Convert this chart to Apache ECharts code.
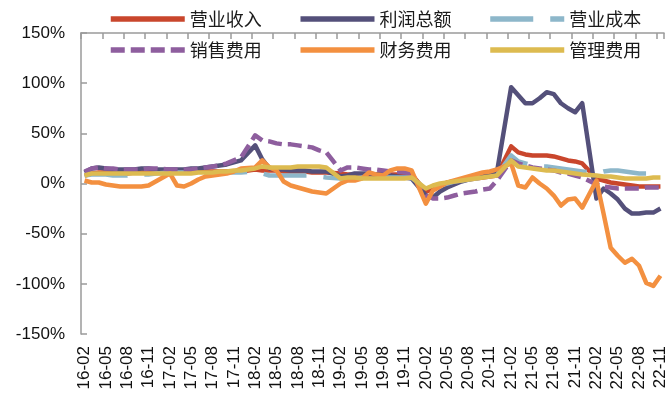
<!DOCTYPE html>
<html>
<head>
<meta charset="utf-8">
<script src="https://cdn.jsdelivr.net/npm/echarts@6/dist/echarts.min.js"></script>
<style>
  html, body {margin: 0; padding: 0; background: #fff;}
  #chart {width: 670px; height: 405px;}
</style>
</head>
<body>
<div id="chart"></div>
<script>
// 月份：16-02 ~ 22-11，1月无数据（1-2月合并）
const months = [];
for (let y = 16; y <= 22; y++) {
  for (let m = 1; m <= 12; m++) {
    if ((y === 16 && m < 2) || (y === 22 && m > 11)) continue;
    months.push(y + '-' + String(m).padStart(2, '0'));
  }
}

const N = null;
// 营业收入
const revenue = [
  8, 10, 11, 11, 10, 10, 10, 11, 11, 11, 11, N,
  13, 13, 12, 12, 12, 12, 12, 12, 12, 12, 12, N,
  14, 13, 13, 13, 12, 12, 12, 12, 11, 11, 11, N,
  10, 9, 9, 9, 9, 9, 9, 9, 9, 9, 9, N,
  -8, -6, -2, 1, 2, 3, 4, 5, 6, 7, 8, N,
  37, 31, 29, 28, 28, 28, 27, 25, 23, 22, 20, N,
  5, 3, 1, 0, -1, -2, -3, -3, -3, -3
];
// 利润总额
const profit = [
  11, 15, 16, 15, 14, 14, 14, 14, 15, 15, 14, N,
  14, 14, 14, 15, 15, 16, 17, 18, 19, 21, 23, N,
  38, 24, 15, 14, 14, 13, 13, 13, 12, 12, 12, N,
  7, 8, 10, 10, 10, 9, 9, 8, 7, 6, 5, N,
  -12, -14, -8, -4, -1, 2, 4, 6, 8, 10, 11, N,
  96, 88, 80, 80, 85, 91, 89, 80, 75, 71, 80, N,
  -15, -5, -10, -16, -25, -30, -30, -29, -29, -25
];
// 营业成本
const cost = [
  8, 9, 9, 9, 8, 8, 8, 9, 9, 9, 10, N,
  11, 11, 11, 11, 10, 10, 10, 11, 11, 11, 11, N,
  12, 10, 8, 8, 8, 8, 8, 8, 8, 7, 6, N,
  5, 5, 5, 6, 6, 6, 6, 6, 6, 6, 6, N,
  -6, -4, -2, 0, 2, 3, 4, 5, 6, 7, 8, N,
  28, 22, 20, 18, 17, 17, 16, 15, 14, 13, 12, N,
  10, 12, 13, 13, 12, 11, 10, 10, 9, 8
];
// 销售费用
const selling = [
  12, 15, 16, 15, 15, 14, 14, 14, 14, 15, 15, N,
  14, 14, 14, 14, 15, 16, 17, 18, 20, 23, 26, N,
  48, 43, 42, 40, 39, 39, 38, 37, 36, 33, 31, N,
  13, 16, 16, 15, 14, 14, 13, 12, 12, 11, 10, N,
  -12, -15, -15, -14, -12, -10, -9, -8, -6, -5, 3, N,
  23, 20, 18, 16, 15, 14, 13, 11, 10, 8, 6, N,
  -1, -3, -4, -5, -5, -5, -5, -4, -4, -4
];
// 财务费用
const finance = [
  3, 1, 1, -1, -2, -3, -3, -3, -3, -2, 2, N,
  10, -2, -3, 0, 4, 7, 8, 9, 10, 12, 15, N,
  16, 23, 16, 13, 2, -2, -4, -6, -8, -9, -10, N,
  0, 3, 3, 5, 11, 9, 8, 13, 15, 15, 13, N,
  -20, -7, -3, 1, 3, 5, 7, 9, 11, 12, 14, N,
  20, -2, -4, 6, 0, -5, -12, -22, -16, -15, -24, N,
  3, -30, -64, -72, -79, -75, -82, -99, -102, -92
];
// 管理费用
const admin = [
  8, 10, 10, 10, 10, 10, 10, 10, 10, 10, 10, N,
  10, 10, 10, 10, 11, 11, 11, 12, 12, 13, 13, N,
  15, 17, 16, 16, 16, 16, 17, 17, 17, 17, 16, N,
  5, 6, 6, 5, 5, 5, 5, 5, 5, 5, 6, N,
  -5, -2, 0, 1, 2, 3, 4, 5, 6, 7, 8, N,
  23, 17, 16, 15, 14, 13, 13, 12, 11, 10, 9, N,
  8, 7, 7, 6, 5, 5, 5, 5, 6, 6
];

const seriesDefs = [
  {name: '营业收入', data: revenue, color: '#C9462C', type: 'solid'},
  {name: '利润总额', data: profit, color: '#54507A', type: 'solid'},
  {name: '营业成本', data: cost, color: '#8DB7CA', type: [43, 17]},
  {name: '销售费用', data: selling, color: '#8E5E9E', type: [14, 6]},
  {name: '财务费用', data: finance, color: '#F39040', type: 'solid'},
  {name: '管理费用', data: admin, color: '#DDBB50', type: 'solid'},
];

const axisColor = '#9a9a9a';
const labelFont = {fontFamily: 'Liberation Sans, Arial, sans-serif', fontSize: 17, color: '#111'};
const legendCommon = {
  left: 103,
  width: 620,
  itemWidth: 74,
  itemHeight: 14,
  itemGap: 36,
  itemStyle: {opacity: 0, borderWidth: 0},
  lineStyle: {width: 5.5},
  textStyle: {fontFamily: 'Noto Sans CJK SC', fontSize: 18, color: '#1a1a1a'},
};

const myChart = echarts.init(document.getElementById('chart'));
myChart.setOption({
  animation: false,
  backgroundColor: '#fff',
  legend: [
    Object.assign({top: 5, data: ['营业收入', '利润总额', '营业成本']}, legendCommon),
    Object.assign({top: 36, data: ['销售费用', '财务费用', '管理费用']}, legendCommon),
  ],
  grid: {left: 81, right: 6, top: 33, bottom: 71},
  xAxis: [
    {
      type: 'category',
      data: months,
      boundaryGap: true,
      axisLine: {show: false},
      axisTick: {show: false},
      axisLabel: Object.assign({interval: 2, rotate: 90, margin: 12}, labelFont),
      splitLine: {show: false},
    },
    {
      type: 'category',
      data: months,
      boundaryGap: true,
      axisLine: {onZero: true, lineStyle: {color: axisColor, width: 1.5}},
      axisTick: {show: true, inside: true, interval: 2, length: 6, lineStyle: {color: axisColor, width: 1.5}},
      axisLabel: {show: false},
      splitLine: {show: false},
    },
  ],
  yAxis: {
    type: 'value',
    min: -150,
    max: 150,
    interval: 50,
    axisLine: {show: true, lineStyle: {color: axisColor, width: 1.5}},
    axisTick: {show: true, inside: true, length: 6, lineStyle: {color: axisColor, width: 1.5}},
    axisLabel: Object.assign({formatter: '{value}%', margin: 16}, labelFont),
    splitLine: {show: false},
  },
  series: seriesDefs.map(s => ({
    name: s.name,
    type: 'line',
    data: s.data,
    xAxisIndex: 0,
    symbol: 'none',
    connectNulls: true,
    color: s.color,
    lineStyle: {width: 4.5, color: s.color, type: s.type, cap: 'butt', join: 'round'},
  })),
});
</script>
</body>
</html>
